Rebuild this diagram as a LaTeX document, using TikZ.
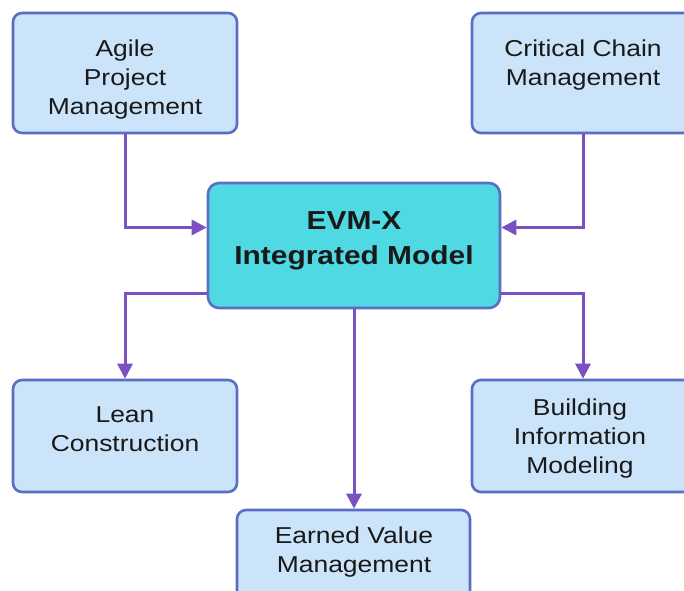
\documentclass[tikz,border=0pt]{standalone}
\usepackage{fontspec}
\setmainfont[FakeStretch=1.15]{Liberation Sans}
\usetikzlibrary{arrows.meta}
\definecolor{boxfill}{HTML}{CCE4FA}
\definecolor{boxline}{HTML}{5A6FC4}
\definecolor{hubfill}{HTML}{4FD9E2}
\definecolor{linkcol}{HTML}{7A50C2}
\tikzset{
  panel/.style={draw=boxline, fill=boxfill, line width=2.6pt, rounded corners=9pt, inner sep=0pt},
  hub/.style={draw=boxline, fill=hubfill, line width=2.6pt, rounded corners=11pt, inner sep=0pt},
  caption/.style={align=center, font=\fontsize{23}{29}\selectfont, text=black!90},
  hubcaption/.style={align=center, font=\fontsize{26}{35}\selectfont\bfseries, text=black!90},
  link/.style={draw=linkcol, line width=3pt, -{Triangle[length=15pt,width=15pt]}}
}
\begin{document}
\begin{tikzpicture}[x=1pt,y=-1pt]
\useasboundingbox (0,0) rectangle (684,590);
% boxes
\node[panel, minimum width=224pt, minimum height=120pt] (agile) at (125,73) {};
\node[panel, minimum width=222pt, minimum height=120pt] (ccm) at (583,73) {};
\node[hub, minimum width=292pt, minimum height=125pt] (evmx) at (354,245.5) {};
\node[panel, minimum width=224pt, minimum height=112pt] (lean) at (125,436) {};
\node[panel, minimum width=222pt, minimum height=112pt] (bim) at (583,436) {};
\node[panel, minimum width=233pt, minimum height=100pt] (evm) at (353.5,560) {};
% captions
\node[caption] (agileT) at (125,80) {Agile\\Project\\Management};
\node[caption] (ccmT) at (583,65) {Critical Chain\\Management};
\node[hubcaption] (evmxT) at (354,241) {EVM-X\\Integrated Model};
\node[caption] (leanT) at (125,429.5) {Lean\\Construction};
\node[caption] (bimT) at (580,439) {Building\\Information\\Modeling};
\node[caption] (evmT) at (354,552.5) {Earned Value\\Management};
% connectors (canvas y points up, so upward shifts are positive)
\draw[link] (agile.south) |- ([yshift=18pt]evmx.west);
\draw[link] (ccm.south) |- ([yshift=18pt]evmx.east);
\draw[link] ([yshift=-48pt]evmx.west) -| (lean.north);
\draw[link] ([yshift=-48pt]evmx.east) -| (bim.north);
\draw[link] (evmx.south) -- (evm.north -| evmx.south);
\end{tikzpicture}
\end{document}
